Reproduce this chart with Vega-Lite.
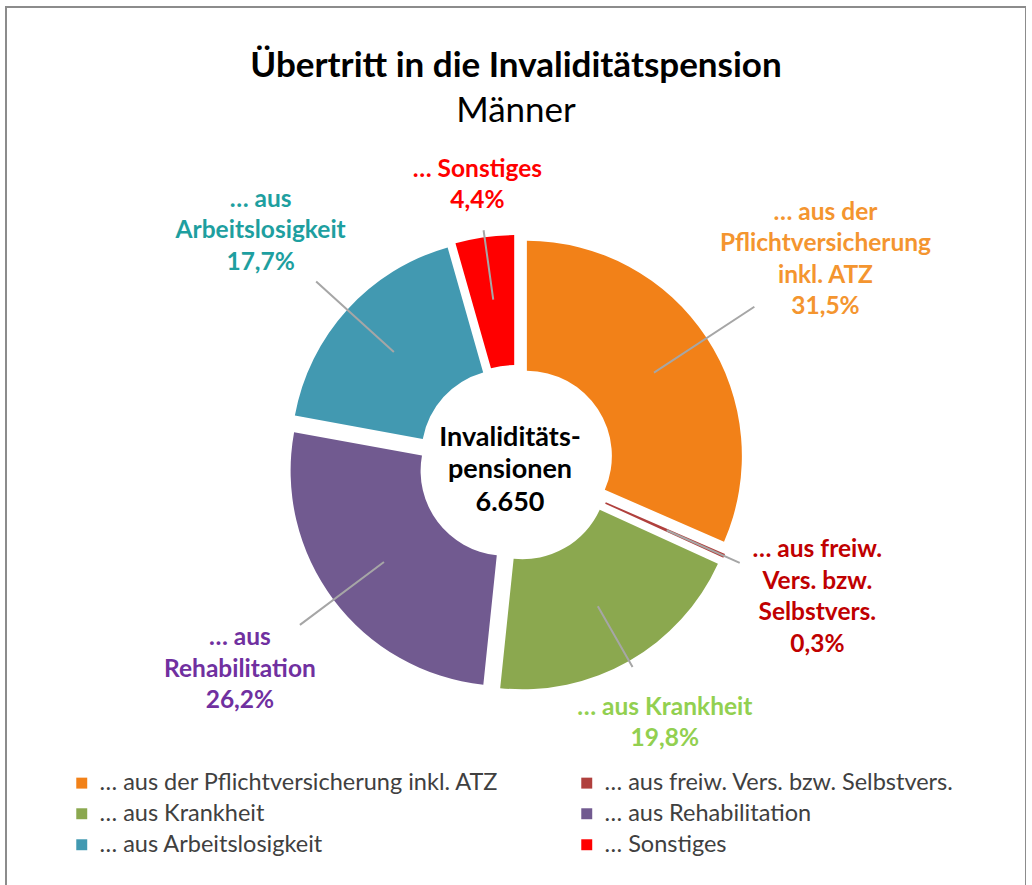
{
  "$schema": "https://vega.github.io/schema/vega-lite/v6.json",
  "autosize": {"type": "none"},
  "padding": {"left": 6, "top": 7, "right": 0, "bottom": 0},
  "width": 1020,
  "height": 912,
  "background": "white",
  "view": {"stroke": "#8C8C8C", "strokeWidth": 2},
  "config": {"view": {"stroke": "#8C8C8C", "strokeWidth": 2}, "font": "Lato"},
  "title": {
    "text": "Übertritt in die Invaliditätspension",
    "subtitle": "Männer",
    "font": "Lato",
    "fontSize": 35,
    "fontWeight": "bold",
    "color": "#000000",
    "subtitleFont": "Lato",
    "subtitleFontSize": 35,
    "subtitleColor": "#000000",
    "subtitlePadding": 10,
    "anchor": "middle",
    "frame": "group",
    "offset": -122
  },
  "data": {
    "values": [
      {"idx": 1, "cat": "… aus der Pflichtversicherung inkl. ATZ", "label": "… aus der\nPflichtversicherung\ninkl. ATZ\n31,5%", "value": 31.5},
      {"idx": 2, "cat": "… aus freiw. Vers. bzw. Selbstvers.", "label": "… aus freiw.\nVers. bzw.\nSelbstvers.\n0,3%", "value": 0.3},
      {"idx": 3, "cat": "… aus Krankheit", "label": "… aus Krankheit\n19,8%", "value": 19.8},
      {"idx": 4, "cat": "… aus Rehabilitation", "label": "… aus\nRehabilitation\n26,2%", "value": 26.2},
      {"idx": 5, "cat": "… aus Arbeitslosigkeit", "label": "… aus\nArbeitslosigkeit\n17,7%", "value": 17.7},
      {"idx": 6, "cat": "… Sonstiges", "label": "… Sonstiges\n4,4%", "value": 4.4}
    ]
  },
  "layer": [
    {
      "mark": {
        "type": "arc",
        "radius": 215,
        "radius2": 85,
        "xOffset": {"expr": "13*sin(scale('theta', (datum.value_start + datum.value_end)/2))"},
        "yOffset": {"expr": "-13*cos(scale('theta', (datum.value_start + datum.value_end)/2))"}
      },
      "encoding": {
        "theta": {"field": "value", "type": "quantitative", "stack": true},
        "order": {"field": "idx", "type": "quantitative"},
        "color": {
          "field": "cat",
          "type": "nominal",
          "scale": {
            "domain": ["… aus der Pflichtversicherung inkl. ATZ", "… aus freiw. Vers. bzw. Selbstvers.", "… aus Krankheit", "… aus Rehabilitation", "… aus Arbeitslosigkeit", "… Sonstiges"],
            "range": ["#F28118", "#B0403D", "#8BA84F", "#715A90", "#4299B1", "#FF0000"]
          },
          "legend": {
            "title": null,
            "orient": "none",
            "legendX": 64,
            "legendY": 764,
            "direction": "horizontal",
            "columns": 2,
            "symbolType": "square",
            "symbolSize": 120,
            "symbolStrokeWidth": 0,
            "symbolOpacity": 1,
            "labelFont": "Lato",
            "labelFontSize": 23.5,
            "labelColor": "#404040",
            "labelOffset": 6,
            "labelLimit": 700,
            "rowPadding": 6,
            "columnPadding": 76,
            "padding": 0
          }
        }
      }
    },
    {
      "mark": {"type": "arc", "radius": {"expr": "[285, 245, 235, 270, 270, 235][datum.idx - 1]"}, "radius2": 165, "padAngle": 3.1, "fill": null, "stroke": "#A6A6A6", "strokeWidth": 2},
      "encoding": {
        "theta": {"field": "value", "type": "quantitative", "stack": true},
        "order": {"field": "idx", "type": "quantitative"},
        "detail": {"field": "cat", "type": "nominal"}
      }
    },
    {
      "mark": {
        "type": "text",
        "radius": {"expr": "[370, 330, 300, 345, 345, 280][datum.idx - 1]"},
        "dy": {"expr": "-(length(split(datum.label, '\\n')) - 1) * 15.75"},
        "font": "Lato",
        "fontSize": 24.5,
        "fontWeight": "bold",
        "lineBreak": "\n",
        "lineHeight": 31.5,
        "align": "center",
        "baseline": "middle"
      },
      "encoding": {
        "theta": {"field": "value", "type": "quantitative", "stack": true},
        "order": {"field": "idx", "type": "quantitative"},
        "text": {"field": "label", "type": "nominal"},
        "color": {
          "field": "cat",
          "type": "nominal",
          "scale": {
            "domain": ["… aus der Pflichtversicherung inkl. ATZ", "… aus freiw. Vers. bzw. Selbstvers.", "… aus Krankheit", "… aus Rehabilitation", "… aus Arbeitslosigkeit", "… Sonstiges"],
            "range": ["#F4952F", "#C00000", "#92D050", "#7030A0", "#1E9FA0", "#FF0000"]
          },
          "legend": null
        }
      }
    },
    {
      "data": {"values": [{"center": "Invaliditäts-\npensionen\n6.650"}]},
      "mark": {"type": "text", "font": "Lato", "fontSize": 27, "fontWeight": "bold", "lineBreak": "\n", "lineHeight": 32.5, "align": "center", "baseline": "middle", "dx": -6, "dy": -25.5, "color": "#000000"},
      "encoding": {"text": {"field": "center", "type": "nominal"}}
    }
  ],
  "resolve": {"scale": {"color": "independent"}}
}
